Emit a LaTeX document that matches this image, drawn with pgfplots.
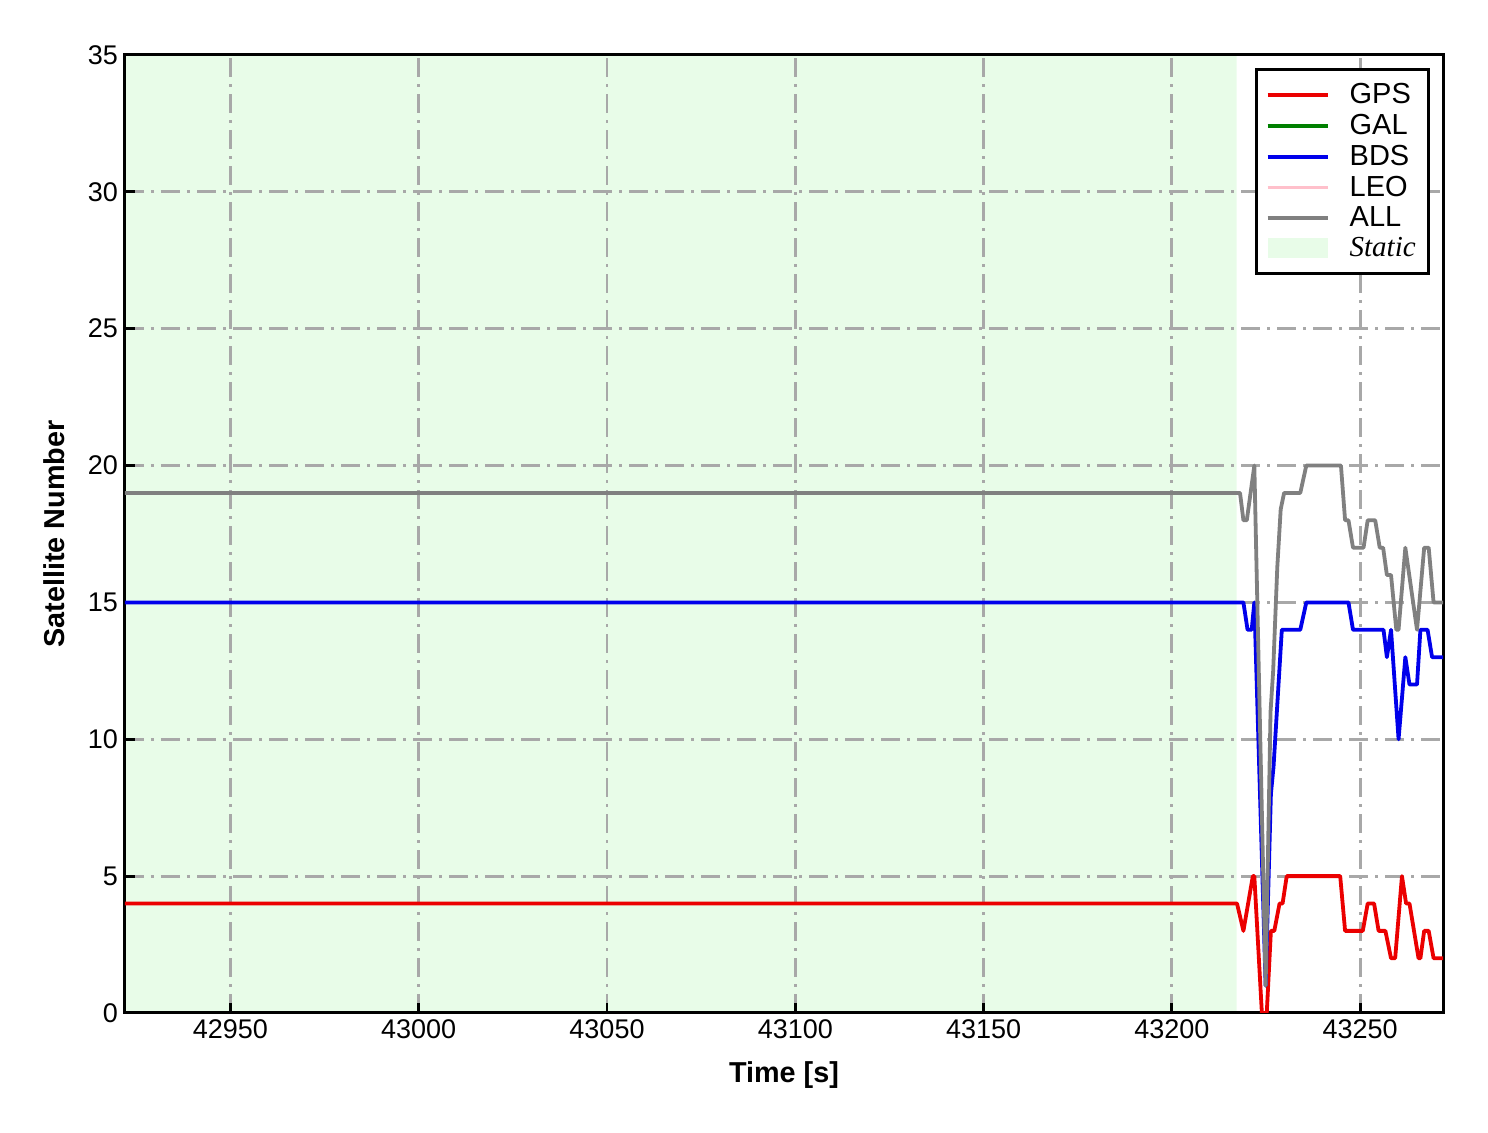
\documentclass[border=0pt]{standalone}
\usepackage{pgfplots}
\pgfplotsset{compat=1.18}
\usepackage{fontspec}
\setmainfont{Liberation Sans}
\newfontfamily\timesfont{Liberation Serif}
\definecolor{staticbg}{RGB}{232,252,232}
\definecolor{gridgray}{RGB}{168,168,168}
\definecolor{cred}{RGB}{235,0,0}
\definecolor{cgreen}{RGB}{0,128,0}
\definecolor{cblue}{RGB}{0,0,235}
\definecolor{cpink}{RGB}{255,192,203}
\definecolor{cgray}{RGB}{128,128,128}
\begin{document}
\begin{tikzpicture}
\begin{axis}[
  set layers,
  at={(0,0)}, anchor=south west,
  scale only axis, width=659pt, height=479pt,
  xmin=42922, xmax=43272, ymin=0, ymax=35,
  xtick={42950,43000,...,43250}, ytick={0,5,...,35},
  scaled x ticks=false,
  xticklabel style={/pgf/number format/.cd, fixed, precision=0, 1000 sep={}},
  /pgf/number format/1000 sep={},
  /pgf/number format/assume math mode=true,
  tick label style={font=\fontsize{13.5}{16}\selectfont},
  tick align=inside, tick pos=left,
  major tick length=5pt,
  every tick/.style={black, line width=1.4pt},
  axis line style={line width=1.5pt},
  grid=major,
  major grid style={gridgray, line width=1.4pt, dash pattern=on 9.5pt off 3.5pt on 1.5pt off 3.5pt},
  xlabel={Time [s]}, ylabel={Satellite Number},
  every axis x label/.style={at={(axis description cs:0.5,-0.0647)}, anchor=center, font=\fontsize{14.4}{16}\selectfont\bfseries},
  every axis y label/.style={at={(axis description cs:-0.0535,0.5)}, rotate=90, anchor=center, font=\fontsize{14.4}{16}\selectfont\bfseries},
  legend style={at={(1,1)}, xshift=-6.5pt, yshift=-6.5pt, anchor=north east, draw=black, line width=1.3pt,
    font=\fontsize{14.5}{16}\selectfont, row sep=-0.2pt, inner xsep=4.5pt, inner ysep=5pt},
  legend cell align=left,
  legend image code/.code={\draw[#1] (0pt,0pt) -- (30pt,0pt); \path[draw=none,fill=none] (0pt,0pt) -- (39pt,0pt);},
]
\addplot[fill=staticbg, draw=none, on layer=axis background, forget plot]
  coordinates {(42922,0) (43217.2,0) (43217.2,35) (42922,35) (42922,0)};

\addplot[cred, line width=1.9pt, line join=round] coordinates {
(42922,4) (43217.3,4) (43219.0,3) (43221.5,5) (43221.9,5) (43223.9,0) (43225.2,0)
(43226.3,3) (43227.2,3) (43228.6,4) (43229.4,4) (43230.5,5) (43244.7,5) (43246.0,3)
(43250.7,3) (43252.0,4) (43253.7,4) (43254.9,3) (43256.7,3) (43258.2,2) (43259.3,2)
(43261.1,5) (43262.2,4) (43263.1,4) (43265.5,2) (43266.0,2) (43267.0,3) (43268.2,3)
(43269.5,2) (43272,2)};
\addlegendentry{GPS}
\addlegendimage{cgreen, line width=1.9pt}
\addlegendentry{GAL}
\addplot[cblue, line width=1.9pt, line join=round] coordinates {
(42922,15) (43219.0,15) (43220.1,14) (43221.2,14) (43221.9,15) (43224.9,1)
(43226.3,8) (43227.0,9) (43229.2,14) (43234.1,14) (43235.7,15) (43246.9,15)
(43248.1,14) (43256.2,14) (43257.1,13) (43258.2,14) (43260.2,10) (43262.0,13)
(43263.1,12) (43265.1,12) (43266.0,14) (43267.9,14) (43269.1,13) (43272,13)};
\addlegendentry{BDS}
\addlegendimage{cpink, line width=1.9pt}
\addlegendentry{LEO}
\addplot[cgray, line width=1.9pt, line join=round] coordinates {
(42922,19) (43218.1,19) (43219.0,18) (43219.9,18) (43221.9,20) (43224.9,1)
(43226.2,11) (43226.9,12.5) (43228.0,16.3) (43228.9,18.4) (43229.8,19) (43234.1,19)
(43235.7,20) (43244.9,20) (43246.0,18) (43246.9,18) (43248.1,17) (43250.9,17)
(43252.0,18) (43254.0,18) (43255.2,17) (43256.1,17) (43257.1,16) (43258.2,16)
(43259.6,14) (43260.2,14) (43262.0,17) (43265.1,14) (43267.0,17) (43268.2,17)
(43269.5,15) (43272,15)};
\addlegendentry{ALL}
\addlegendimage{legend image code/.code={\fill[staticbg, draw=none] (0pt,-5pt) rectangle (30pt,5pt); \path[draw=none,fill=none] (0pt,0pt) -- (39pt,0pt);}}
\addlegendentry{{\timesfont\itshape Static}}
\end{axis}
\path (-62.5pt,-60pt) rectangle (681.5pt,506.5pt);
\end{tikzpicture}
\end{document}
